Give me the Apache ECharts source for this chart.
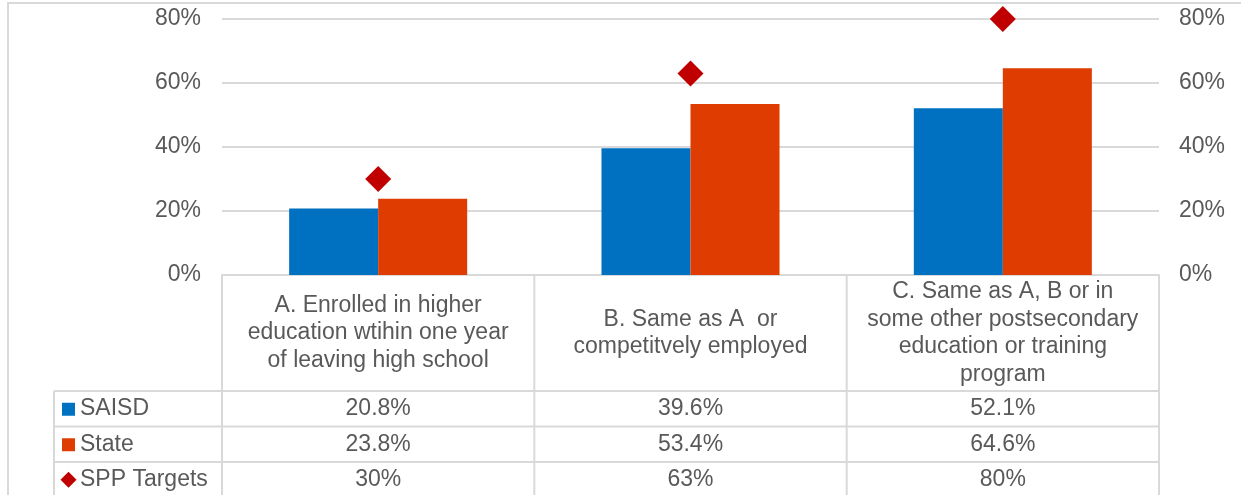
<!DOCTYPE html>
<html><head><meta charset="utf-8">
<script src="https://cdn.jsdelivr.net/npm/echarts@6/dist/echarts.min.js"></script>
<style>html,body{margin:0;padding:0;background:#fff}#c{width:1241px;height:495px}</style>
</head><body><div id="c"></div>
<script>
// ---- data ----
const categories = [
  'A. Enrolled in higher\neducation wtihin one year\nof leaving high school',
  'B. Same as A  or\ncompetitvely employed',
  'C. Same as A, B or in\nsome other postsecondary\neducation or training\nprogram'
];
const seriesNames = ['SAISD', 'State', 'SPP Targets'];
const saisd = [0.208, 0.396, 0.521];
const state = [0.238, 0.534, 0.646];
const targets = [0.30, 0.63, 0.80];
const saisdText = ['20.8%', '39.6%', '52.1%'];
const stateText = ['23.8%', '53.4%', '64.6%'];
const targetText = ['30%', '63%', '80%'];
const yMin = 0, yMax = 0.8, yStep = 0.2;

// ---- style ----
const FONT = '"Liberation Sans", Arial, sans-serif';
const TXT = '#595959';
const LINE = '#D9D9D9';
const BLUE = '#0070C0', ORANGE = '#DE3C00', RED = '#C00000';
const TFS = 23;

const chart = echarts.init(document.getElementById('c'), null, {renderer: 'canvas'});
const gridLeft = 222, gridTop = 19, gridBottomY = 275, gridRightX = 1159;

const pct = v => Math.round(v * 100) + '%';
const yAxisCommon = {
  type: 'value', min: yMin, max: yMax, interval: yStep,
  axisLine: {show: false}, axisTick: {show: false},
  axisLabel: {formatter: pct, color: TXT, fontSize: 23, fontFamily: FONT}
};

chart.setOption({
  backgroundColor: '#fff',
  animation: false,
  grid: {left: gridLeft, top: gridTop, width: gridRightX - gridLeft, height: gridBottomY - gridTop, containLabel: false},
  xAxis: {
    type: 'category', data: categories,
    axisLine: {lineStyle: {color: LINE, width: 2}},
    axisTick: {show: false},
    axisLabel: {interval: 0, color: TXT, fontSize: TFS, fontFamily: FONT, lineHeight: 27.5,
      verticalAlign: 'middle', margin: 58, align: 'center'}
  },
  yAxis: [
    Object.assign({}, yAxisCommon, {position: 'left', axisLabel: Object.assign({}, yAxisCommon.axisLabel, {margin: 21}),
      splitLine: {lineStyle: {color: LINE, width: 2}}}),
    Object.assign({}, yAxisCommon, {position: 'right', axisLabel: Object.assign({}, yAxisCommon.axisLabel, {margin: 20}),
      splitLine: {show: false}})
  ],
  series: [
    {name: seriesNames[0], type: 'bar', data: saisd, itemStyle: {color: BLUE}, barGap: '0%', barCategoryGap: '43%'},
    {name: seriesNames[1], type: 'bar', data: state, itemStyle: {color: ORANGE}, barGap: '0%', barCategoryGap: '43%'},
    {name: seriesNames[2], type: 'scatter', data: targets, symbol: 'diamond', symbolSize: [26, 26],
      itemStyle: {color: RED, opacity: 1}, z: 5}
  ]
});

// ---- data table (built from the arrays, positioned from the axis) ----
const centers = categories.map((c, i) => chart.convertToPixel({xAxisIndex: 0}, i));
const half = (centers[1] - centers[0]) / 2;
const colEdges = [centers[0] - half].concat(centers.map(c => c + half));
const headerBottom = 391, rowH = 35.5, labelLeft = 54;
const rowTexts = [saisdText, stateText, targetText];
const g = [];
const line = (x1, y1, x2, y2) => g.push({type: 'line', shape: {x1, y1, x2, y2}, style: {stroke: LINE, lineWidth: 2}, silent: true});
colEdges.forEach(x => line(x, gridBottomY, x, 500));
line(labelLeft, headerBottom, labelLeft, 500);
for (let r = 0; r < 3; r++) line(labelLeft, headerBottom + r * rowH, colEdges[3], headerBottom + r * rowH);
rowTexts.forEach((vals, r) => {
  const cy = headerBottom + r * rowH + rowH / 2;
  if (r < 2) {
    g.push({type: 'rect', shape: {x: 62, y: cy - 6, width: 13, height: 13}, style: {fill: r === 0 ? BLUE : ORANGE}, silent: true});
  } else {
    g.push({type: 'polygon', shape: {points: [[68.5, cy - 8], [76.5, cy], [68.5, cy + 8], [60.5, cy]]}, style: {fill: RED}, silent: true});
  }
  g.push({type: 'text', x: 80, y: cy, style: {text: seriesNames[r], fill: TXT, font: TFS + 'px ' + FONT, textAlign: 'left', textVerticalAlign: 'middle'}, silent: true});
  vals.forEach((t, i) => {
    g.push({type: 'text', x: centers[i], y: cy, style: {text: t, fill: TXT, font: TFS + 'px ' + FONT, textAlign: 'center', textVerticalAlign: 'middle'}, silent: true});
  });
});
g.push({type: 'rect', shape: {x: 8, y: 3, width: 1240, height: 500}, style: {fill: 'none', stroke: LINE, lineWidth: 2}, silent: true});
chart.setOption({graphic: g});
</script></body></html>
